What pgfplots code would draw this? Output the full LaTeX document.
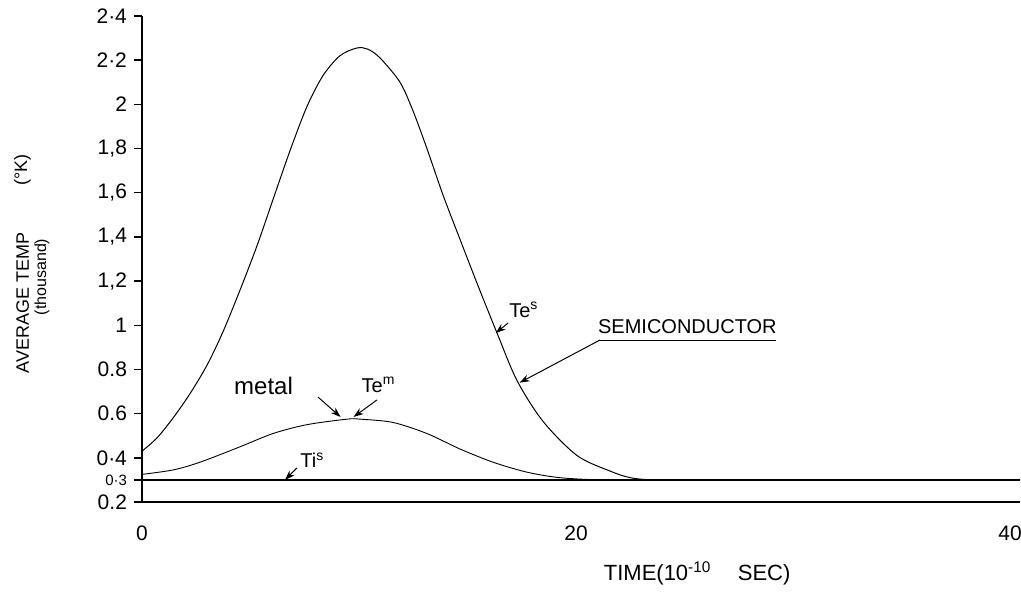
\documentclass[border=0pt]{standalone}
\usepackage{fontspec}
\setmainfont{Liberation Sans}
\usepackage{pgfplots}
\pgfplotsset{compat=1.18}
\usetikzlibrary{arrows.meta}

\begin{document}
\begin{tikzpicture}
\begin{axis}[
    scale only axis, width=439pt, height=243pt,
    xmin=0, xmax=40.46, ymin=0.2, ymax=2.4,
    axis lines=left, axis line style={-, line width=0.8pt},
    xtick={0,20,40}, xticklabels={0,20,40},
    ytick={0.2,0.3,0.4,0.6,0.8,1,1.2,1.4,1.6,1.8,2,2.2,2.4},
    yticklabels={0.2,{\fontsize{7.5}{8}\selectfont 0·3},0·4,0.6,0.8,1,{1,2},{1,4},{1,6},{1,8},2,2·2,2·4},
    x tick style={draw=none},
    y tick style={line width=0.7pt, black},
    tick align=outside, major tick length=4pt,
    xticklabel style={yshift=-4.5pt},
    tick label style={font=\fontsize{10.5}{12}\selectfont},
    clip=false,
  ]
  % Te^s (semiconductor electrons)
  \addplot[black, line width=0.5pt, smooth] coordinates {
    (0,0.43) (0.69,0.49) (1.43,0.58) (2.21,0.69) (3.0,0.82) (3.73,0.97)
    (4.52,1.16) (5.3,1.36) (6.04,1.57) (6.82,1.79) (7.6,1.99) (8.34,2.13)
    (9.12,2.22) (9.9,2.255) (10.4,2.25) (10.97,2.21) (11.89,2.10) (12.49,1.97)
    (13.13,1.80) (13.87,1.59) (14.65,1.39) (15.44,1.19) (16.36,0.965)
    (17.28,0.75) (18.48,0.565) (20.05,0.41) (21.57,0.34) (22.5,0.31)
    (23.6,0.30) (26,0.30) (40.46,0.30)
  };
  % Te^m (metal electrons)
  \addplot[black, line width=0.45pt, smooth] coordinates {
    (0,0.325) (1.43,0.345) (2.67,0.38) (4.52,0.45) (6.04,0.51) (7.6,0.55)
    (9.45,0.575) (10.05,0.575) (11.57,0.56) (13.13,0.51) (14.65,0.44)
    (16.18,0.38) (17.74,0.335) (19.26,0.31) (21.1,0.30) (23,0.30)
  };
  % Ti^s
  \addplot[black, line width=0.8pt] coordinates {(0,0.3) (40.46,0.3)};

  % annotations
  \node[font=\fontsize{10}{12}\selectfont] at (axis cs:17.6,1.07) {Te\textsuperscript{s}};
  \draw[-{Stealth[length=5pt,width=3.5pt]}, line width=0.5pt] (axis cs:16.87,1.01) -- (axis cs:16.3,0.965);
  \node[anchor=south west, inner sep=0pt, font=\fontsize{10}{12}\selectfont] at (axis cs:21.0,0.96) {SEMICONDUCTOR};
  \draw[line width=0.5pt] (axis cs:21.0,0.933) -- (axis cs:29.2,0.933);
  \draw[-{Stealth[length=5pt,width=3.5pt]}, line width=0.5pt] (axis cs:21.1,0.933) -- (axis cs:17.4,0.74);
  \node[font=\fontsize{12}{14}\selectfont] at (axis cs:5.6,0.725) {metal};
  \draw[-{Stealth[length=5pt,width=3.5pt]}, line width=0.5pt] (axis cs:8.11,0.675) -- (axis cs:9.15,0.585);
  \node[font=\fontsize{10}{12}\selectfont] at (axis cs:10.9,0.73) {Te\textsuperscript{m}};
  \draw[-{Stealth[length=5pt,width=3.5pt]}, line width=0.5pt] (axis cs:10.83,0.662) -- (axis cs:9.75,0.585);
  \node[font=\fontsize{10}{12}\selectfont] at (axis cs:7.85,0.39) {Ti\textsuperscript{s}};
  \draw[-{Stealth[length=5pt,width=3.5pt]}, line width=0.5pt] (axis cs:7.14,0.354) -- (axis cs:6.59,0.30);

  % axis titles
  \node[rotate=90, font=\fontsize{9}{10}\selectfont] at (axis description cs:-0.136,0.41) {AVERAGE TEMP};
  \node[rotate=90, font=\fontsize{8}{9}\selectfont] at (axis description cs:-0.114,0.463) {(thousand)};
  \node[rotate=90, font=\fontsize{9}{10}\selectfont] at (axis description cs:-0.136,0.683) {(°K)};
  \node[anchor=west, font=\fontsize{11}{13}\selectfont] at (axis description cs:0.518,-0.146) {TIME(10\textsuperscript{-10}\hspace{1.2em}SEC)};

  \coordinate (bl) at ([shift={(-71pt,-45pt)}]rel axis cs:0,0);
  \coordinate (tr) at ([shift={(0.5pt,8pt)}]rel axis cs:1,1);
\end{axis}
\pgfresetboundingbox
\path[use as bounding box] (bl) rectangle (tr);
\end{tikzpicture}
\end{document}
